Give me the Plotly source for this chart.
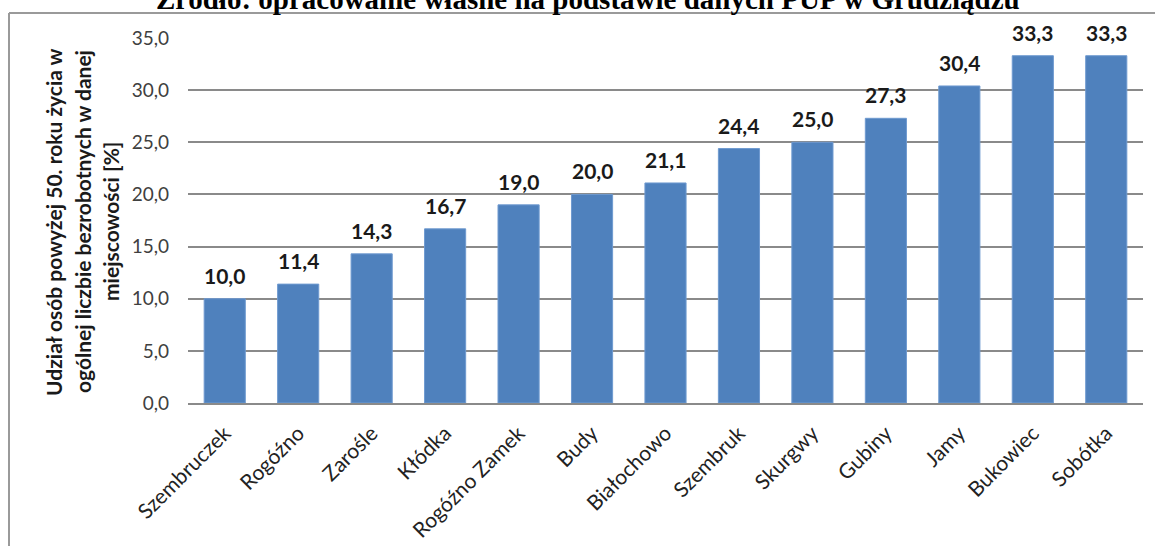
import plotly.graph_objects as go

categories = ["Szembruczek", "Rogóźno", "Zarośle", "Kłódka", "Rogóźno Zamek", "Budy",
              "Białochowo", "Szembruk", "Skurgwy", "Gubiny", "Jamy", "Bukowiec", "Sobótka"]
values = [10.0, 11.4, 14.3, 16.7, 19.0, 20.0, 21.1, 24.4, 25.0, 27.3, 30.4, 33.3, 33.3]
y_ticks = [0, 5, 10, 15, 20, 25, 30, 35]
title_text = "Źródło: opracowanie własne na podstawie danych PUP w Grudziądzu"
ytitle_lines = ["Udział osób powyżej 50. roku życia w",
                "ogólnej liczbie bezrobotnych w danej",
                "miejscowości [%]"]

W, H = 1155, 546
L, R, T, B = 188, 12, 38, 143
pw = W - L - R
ph = H - T - B

def px_x(p):
    return (p - L) / pw

def px_y(p):
    return 1 - (p - T) / ph

FONT = "Lato"
TXT = "#404040"

fig = go.Figure()
fig.add_trace(go.Bar(
    x=categories, y=values,
    marker=dict(color="#4F81BD", line=dict(color="#6f9ad0", width=1)),
    hoverinfo="x+y",
))

annotations = []
for c, v in zip(categories, values):
    annotations.append(dict(
        x=c, y=v, xref="x", yref="y",
        text=f"{v:.1f}".replace(".", ","),
        showarrow=False, yanchor="bottom", yshift=9,
        font=dict(family=FONT, size=21, color="#1a1a1a", weight="bold"),
    ))

# title (partially cut off at top, as in the reference)
annotations.append(dict(
    x=px_x(588), y=px_y(17), xref="paper", yref="paper",
    text=f"<b>{title_text}</b>", showarrow=False,
    xanchor="center", yanchor="bottom",
    font=dict(family="Liberation Serif", size=29, color="#000000"),
))

# y axis title, three lines
for xp, line in zip([53, 82, 110], ytitle_lines):
    annotations.append(dict(
        x=px_x(xp), y=px_y(222), xref="paper", yref="paper",
        text=f"<b>{line}</b>", showarrow=False, textangle=-90,
        xanchor="center", yanchor="middle",
        font=dict(family=FONT, size=21, color="#1a1a1a"),
    ))

shapes = [
    dict(type="line", xref="paper", yref="paper",
         x0=px_x(9), x1=px_x(W + 5), y0=px_y(13), y1=px_y(13),
         line=dict(color="#9a9a9a", width=2)),
    dict(type="line", xref="paper", yref="paper",
         x0=px_x(9), x1=px_x(9), y0=px_y(13), y1=px_y(H + 5),
         line=dict(color="#9a9a9a", width=2)),
]

fig.update_layout(
    width=W, height=H, autosize=False,
    margin=dict(l=L, r=R, t=T, b=B, pad=0, autoexpand=False),
    paper_bgcolor="white", plot_bgcolor="white",
    separators=", ",
    bargap=0.44,
    showlegend=False,
    annotations=annotations,
    shapes=shapes,
    font=dict(family=FONT, color=TXT),
    xaxis=dict(
        tickangle=-45, tickfont=dict(family=FONT, size=21, color="#222222"),
        showline=True, linecolor="#8a8a8a", linewidth=1.5,
        showgrid=False, ticks="", ticklabelstandoff=8, automargin=False,
    ),
    yaxis=dict(
        range=[0, 35], tickvals=y_ticks, tickformat=".1f",
        tickfont=dict(family=FONT, size=19, color=TXT),
        showgrid=True, gridcolor="#8a8a8a", gridwidth=1.5,
        zeroline=False, showline=False, ticks="",
        ticklabelstandoff=18, automargin=False,
    ),
)

fig.write_html("out.html", config={"displayModeBar": False},
               post_script="document.body.style.margin='0';document.body.style.overflow='hidden';")
